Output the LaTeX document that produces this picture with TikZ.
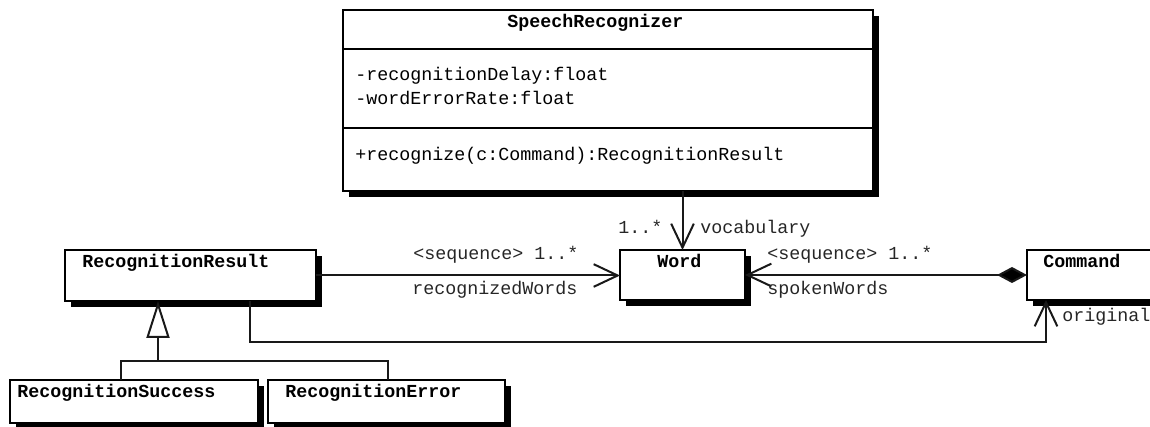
\documentclass[tikz,border=0pt]{standalone}
\usepackage{fontspec}
\setmonofont{Liberation Mono}
\usetikzlibrary{arrows.meta,shadows}

\tikzset{
  cls/.style={draw=black, line width=1.8pt, fill=white, inner sep=0pt, outer sep=0pt,
    anchor=north west,
    general shadow={fill=black, shadow xshift=4.5pt, shadow yshift=-4.5pt}},
  clsname/.style={font=\ttfamily\bfseries\fontsize{13.75pt}{16pt}\selectfont, inner sep=0pt, anchor=base west},
  member/.style={font=\ttfamily\fontsize{13.75pt}{16pt}\selectfont, inner sep=0pt, anchor=base west},
  lbl/.style={font=\ttfamily\fontsize{13.75pt}{16pt}\selectfont, inner sep=0pt, anchor=base west, text=black!85},
  conn/.style={draw=black!90, line width=1.5pt},
  assoc/.style={conn, -{Straight Barb[length=18pt, width=17pt, line width=1.5pt]}},
  comp/.style={conn, {Diamond[length=22.5pt, width=12pt, fill=black]}-{Straight Barb[length=18pt, width=17pt, line width=1.5pt]}},
  gen/.style={conn, -{Triangle[open, length=27.75pt, width=17.25pt, fill=white, line width=1.5pt]}},
}

\begin{document}
\begin{tikzpicture}[x=0.75pt, y=-0.75pt]
\useasboundingbox (0,0) rectangle (1150,427);

% class boxes
\node[cls, minimum width=397.5pt, minimum height=135.75pt] (sr) at (343,10) {};
\node[cls, minimum width=188.25pt, minimum height=38.25pt] (rr) at (65,250) {};
\node[cls, minimum width=93.75pt, minimum height=37.5pt] (word) at (620,250) {};
\node[cls, minimum width=107.25pt, minimum height=37.5pt] (cmd) at (1027,250) {};
\node[cls, minimum width=186pt, minimum height=32.25pt] (rs) at (10,380) {};
\node[cls, minimum width=177.75pt, minimum height=32.25pt] (re) at (268,380) {};

% compartments of SpeechRecognizer
\draw[line width=1.8pt] (343,49) -- (873,49);
\draw[line width=1.8pt] (343,128) -- (873,128);

% class names and members
\node[clsname] (srname) at (507,28) {SpeechRecognizer};
\node[member] (attr1) at (355,81) {-recognitionDelay:float};
\node[member] (attr2) at (355,105) {-wordErrorRate:float};
\node[member] (op1) at (355,161) {+recognize(c:Command):RecognitionResult};
\node[clsname] (rrname) at (82,268) {RecognitionResult};
\node[clsname] (wordname) at (657,268) {Word};
\node[clsname] (cmdname) at (1043,268) {Command};
\node[clsname] (rsname) at (17,398) {RecognitionSuccess};
\node[clsname] (rename) at (285,398) {RecognitionError};

% associations
\draw[assoc] (sr.south -| word.north) -- (word.north);
\draw[assoc] (rr.east) -- (rr.east -| word.west);
\draw[comp] (cmd.west) -- (cmd.west -| word.east);
\draw[assoc] ([xshift=138.75pt]rr.south west) -- ++(0,41) -| ([xshift=14.25pt]cmd.south west);

% generalization
\coordinate (gj) at (158,361);
\draw[conn] ([xshift=83.25pt]rs.north west) |- (gj) -| ([xshift=90pt]re.north west);
\draw[gen] (gj) -- ([xshift=69.75pt]rr.south west);

% association labels
\node[lbl] (l1) at (413,260) {<sequence> 1..*};
\node[lbl] (l2) at (412,295) {recognizedWords};
\node[lbl] (l3) at (618,234) {1..*};
\node[lbl] (l4) at (700,234) {vocabulary};
\node[lbl] (l5) at (767,260) {<sequence> 1..*};
\node[lbl] (l6) at (767,295) {spokenWords};
\node[lbl] (l7) at (1062,322) {original};
\end{tikzpicture}
\end{document}
